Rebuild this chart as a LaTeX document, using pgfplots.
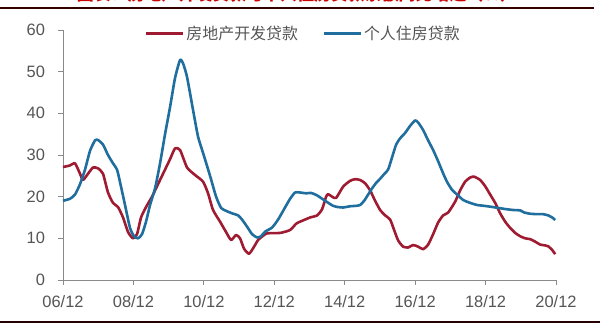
\documentclass[border=0pt]{standalone}
\usepackage{pgfplots}
\pgfplotsset{compat=1.18}
\usepackage{fontspec}
\setmainfont{Liberation Sans}
\newfontfamily\cjk{Noto Sans CJK SC}
\definecolor{cred}{HTML}{9E1B32}
\definecolor{cblue}{HTML}{1F6E9E}
\definecolor{axgray}{HTML}{8A8A8A}
\definecolor{txtgray}{HTML}{555555}
\begin{document}
\begin{tikzpicture}
\useasboundingbox (0bp,0bp) rectangle (600bp,323bp);
% title fragment (cut off at the top) and rules
\node[anchor=south, inner sep=0pt, text=red!80!black, font=\cjk\bfseries\fontsize{17}{17}\selectfont] at (297bp,320bp) {图表：房地产开发贷款与个人住房贷款余额同比增速（\%）};
\draw[line width=1.3bp, color=black!80!red] (0bp,315bp) -- (594bp,315bp);
\draw[line width=2bp, color=black!85!red] (0bp,1bp) -- (600bp,1bp);
\begin{axis}[
  at={(63bp,43bp)}, anchor=south west,
  scale only axis, width=493bp, height=250bp,
  xmin=0, xmax=14, ymin=0, ymax=60,
  axis x line*=bottom, axis y line*=left,
  axis line style={axgray, line width=0.9bp},
  every tick/.style={axgray, line width=0.9bp},
  tick align=outside, major tick length=4.5bp,
  xtick={0,2,...,14},
  xticklabels={06/12,08/12,10/12,12/12,14/12,16/12,18/12,20/12},
  ytick={0,10,...,60},
  /pgf/number format/assume math mode=true,
  tick label style={font=\fontsize{16.5}{18}\selectfont, text=txtgray},
  yticklabel style={xshift=-10bp},
  xticklabel style={yshift=-8bp},
  legend columns=2,
  legend style={draw=none, fill=none, at={(0.487,0.984)}, anchor=center,
    font=\cjk\fontsize{16}{18}\selectfont, text=txtgray,
    /tikz/every even column/.append style={column sep=22bp}},
  legend image code/.code={\draw[#1, line width=3bp] (0bp,0bp) -- (37bp,0bp);},
  clip=false,
]
\addplot[cred, line width=2.6bp, line join=round, smooth, tension=0.35] coordinates {
(0,27.1)(0.199,27.5)(0.341,28)(0.483,25.5)(0.568,24)(0.710,25.5)(0.852,27)(0.994,26.8)
(1.136,25.5)(1.278,21)(1.420,18.5)(1.563,17.5)(1.705,15)(1.847,11.5)(1.989,10)
(2.102,11)(2.216,15)(2.358,17.5)(2.528,20)(2.699,23)(2.898,26.5)(3.040,29)(3.182,31.6)
(3.324,31.2)(3.523,27)(3.750,25.2)(3.977,23.6)(4.119,20.8)(4.261,16.8)(4.460,14)
(4.631,11.5)(4.773,9.6)(4.915,10.8)(5.028,10)(5.142,7.5)(5.284,6.3)(5.426,8)(5.540,9.6)
(5.682,10.6)(5.795,11.2)(6.165,11.3)(6.449,12)(6.619,13.5)(6.733,14)(7.017,15)(7.216,15.5)
(7.358,17)(7.472,20)(7.528,20.6)(7.642,20)(7.756,19.7)(7.955,22.4)(8.153,23.8)(8.295,24.2)
(8.438,24)(8.580,23.2)(8.722,21.5)(8.864,19)(9.006,16.8)(9.148,15.5)(9.290,14.5)
(9.403,12)(9.517,9.5)(9.659,8)(9.801,7.8)(9.943,8.4)(10.085,8)(10.227,7.4)(10.369,8.5)
(10.511,11)(10.653,13.8)(10.795,15.5)(10.938,16.2)(11.136,18.8)(11.278,21.5)(11.420,23.6)
(11.563,24.6)(11.676,24.8)(11.847,24)(11.989,22.5)(12.131,20.5)(12.273,18.5)(12.415,16)
(12.557,14)(12.699,12.5)(12.841,11.3)(12.983,10.5)(13.125,10)(13.267,9.8)(13.409,9.2)
(13.551,8.5)(13.693,8.3)(13.778,8.1)(13.892,7.2)(13.977,6.2)
};
\addlegendentry{房地产开发贷款}
\addplot[cblue, line width=2.6bp, line join=round, smooth, tension=0.35] coordinates {
(0,19)(0.199,19.5)(0.341,20.5)(0.483,23)(0.625,26.5)(0.767,31)(0.909,33.5)(0.994,33.6)
(1.136,32.5)(1.278,30)(1.420,28)(1.534,26.5)(1.619,23.5)(1.761,18)(1.903,12.5)(2.017,10.5)
(2.131,10)(2.244,11)(2.358,14)(2.472,18)(2.614,22)(2.756,28)(2.898,35)(3.040,41.5)
(3.182,48.5)(3.324,52.8)(3.409,52)(3.523,48.7)(3.693,40.8)(3.835,34.4)(3.977,30.5)
(4.176,25)(4.347,20)(4.489,17.3)(4.631,16.6)(4.801,16)(4.972,15.5)(5.085,14.5)(5.227,12.8)
(5.369,11)(5.511,10.2)(5.625,10.5)(5.739,11.6)(5.938,12.6)(6.108,14.5)(6.278,17)(6.449,19.5)
(6.591,21)(6.733,21)(6.903,20.8)(7.045,20.9)(7.216,20.3)(7.358,19.5)(7.500,18.7)(7.670,17.8)
(7.813,17.5)(7.955,17.4)(8.153,17.7)(8.324,17.8)(8.438,18)(8.551,19)(8.665,20.5)(8.778,22)
(8.892,23.3)(9.006,24.3)(9.119,25.4)(9.233,26.5)(9.347,29.5)(9.460,32.5)(9.574,34)
(9.716,35.3)(9.858,37)(10.000,38.3)(10.085,37.8)(10.227,36)(10.369,33.5)(10.511,31.2)
(10.653,28.5)(10.795,25.6)(10.909,23.5)(11.051,21.6)(11.193,20.5)(11.364,19.2)(11.563,18.5)
(11.761,18)(11.960,17.8)(12.131,17.6)(12.358,17.3)(12.585,17)(12.784,16.8)(12.983,16.7)
(13.097,16.2)(13.267,15.9)(13.466,15.8)(13.636,15.8)(13.778,15.5)(13.892,15)(13.977,14.4)
};
\addlegendentry{个人住房贷款}
\end{axis}
\end{tikzpicture}
\end{document}
